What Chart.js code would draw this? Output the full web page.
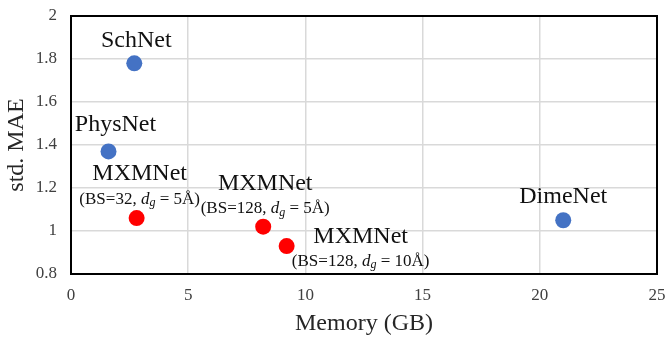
<!DOCTYPE html>
<html>
<head>
<meta charset="utf-8">
<script src="https://cdn.jsdelivr.net/npm/chart.js@4"></script>
<style>
  html, body { margin: 0; padding: 0; background: #fff; }
  #wrap { width: 665px; height: 337px; position: relative; }
</style>
</head>
<body>
<div id="wrap"><canvas id="myChart"></canvas></div>
<script>
// data
const modelNames = ['SchNet', 'PhysNet', 'MXMNet', 'MXMNet', 'MXMNet', 'DimeNet'];
const memoryGB = [2.7, 1.6, 2.8, 8.2, 9.2, 21.0];
const stdMAE = [1.78, 1.37, 1.06, 1.02, 0.93, 1.05];
const batchSizes = [null, null, 32, 128, 128, null];
const cutoffs = [null, null, 5, 5, 10, null];
const isOurs = [false, false, true, true, true, false];

// label placement relative to the point (px): name dx, dy, sub dx, dy
const labelPlace = [
    [2, -23, 0, 0],
    [7, -27, 0, 0],
    [3, -44, 3, -19],
    [2, -43, 2, -18],
    [74, -9, 74, 15],
    [0, -24, 0, 0]
];

const serif = "'Liberation Serif', 'Times New Roman', serif";

const pts = (flag) => memoryGB
    .map((x, i) => ({x: x, y: stdMAE[i], i: i}))
    .filter(p => isOurs[p.i] === flag);

const labelPlugin = {
    id: 'pointLabels',
    afterDatasetsDraw(chart) {
        const ctx = chart.ctx;
        const xs = chart.scales.x, ys = chart.scales.y;
        ctx.save();
        ctx.fillStyle = '#111';
        ctx.textBaseline = 'middle';
        modelNames.forEach((name, i) => {
            const px = xs.getPixelForValue(memoryGB[i]);
            const py = ys.getPixelForValue(stdMAE[i]);
            const pl = labelPlace[i];
            ctx.font = '24px ' + serif;
            ctx.textAlign = 'center';
            ctx.fillText(name, px + pl[0], py + pl[1]);

            if (batchSizes[i] !== null) {
                // (BS=32, d_g = 5Å)
                const parts = [
                    {t: '(BS=' + batchSizes[i] + ', ', f: '17px ' + serif, dy: 0},
                    {t: 'd', f: 'italic 17px ' + serif, dy: 0},
                    {t: 'g', f: 'italic 12px ' + serif, dy: 4},
                    {t: ' = ' + cutoffs[i] + 'Å)', f: '17px ' + serif, dy: 0}
                ];
                let total = 0;
                parts.forEach(p => { ctx.font = p.f; p.w = ctx.measureText(p.t).width; total += p.w; });
                let x = px + pl[2] - total / 2;
                const y = py + pl[3];
                ctx.textAlign = 'left';
                parts.forEach(p => {
                    ctx.font = p.f;
                    ctx.fillText(p.t, x, y + p.dy);
                    x += p.w;
                });
            }
        });
        ctx.restore();
    }
};

const boxPlugin = {
    id: 'plotBox',
    afterDraw(chart) {
        const a = chart.chartArea;
        const ctx = chart.ctx;
        ctx.save();
        ctx.strokeStyle = '#000';
        ctx.lineWidth = 2;
        ctx.strokeRect(a.left, a.top, a.right - a.left, a.bottom - a.top);
        ctx.restore();
    }
};

const noOverhang = (scale) => {
    scale.paddingLeft = 0;
    scale.paddingRight = 0;
    scale.paddingTop = 0;
    scale.paddingBottom = 0;
};

const ctx = document.getElementById('myChart').getContext('2d');
const myChart = new Chart(ctx, {
    type: 'scatter',
    data: {
        datasets: [{
            label: 'baselines',
            data: pts(false),
            backgroundColor: '#4472C4',
            borderWidth: 0,
            pointRadius: 8,
            pointHoverRadius: 8
        }, {
            label: 'MXMNet',
            data: pts(true),
            backgroundColor: '#FF0000',
            borderWidth: 0,
            pointRadius: 8,
            pointHoverRadius: 8
        }]
    },
    options: {
        responsive: true,
        maintainAspectRatio: false,
        animation: false,
        layout: {
            padding: {top: 16, right: 8, left: 0, bottom: 0}
        },
        plugins: {
            legend: {display: false},
            tooltip: {enabled: false}
        },
        scales: {
            x: {
                type: 'linear',
                min: 0,
                max: 25,
                afterFit: (scale) => { scale.height = 63; noOverhang(scale); },
                grid: {
                    color: '#d9d9d9',
                    lineWidth: 1.5,
                    drawTicks: false
                },
                border: {display: false},
                ticks: {
                    stepSize: 5,
                    padding: 11,
                    color: '#404040',
                    font: {size: 17, family: serif}
                },
                title: {
                    display: true,
                    text: 'Memory (GB)',
                    color: '#262626',
                    font: {size: 24, family: serif},
                    padding: {top: 0, bottom: -1}
                }
            },
            y: {
                min: 0.8,
                max: 2,
                afterFit: (scale) => { scale.width = 71; noOverhang(scale); },
                grid: {
                    color: '#d9d9d9',
                    lineWidth: 1.5,
                    drawTicks: false
                },
                border: {display: false},
                ticks: {
                    stepSize: 0.2,
                    padding: 14,
                    color: '#404040',
                    font: {size: 17, family: serif},
                    callback: (value) => String(+value.toFixed(1))
                },
                title: {
                    display: true,
                    text: 'std. MAE',
                    color: '#262626',
                    font: {size: 24, family: serif},
                    padding: {top: 2, bottom: 0}
                }
            }
        }
    },
    plugins: [labelPlugin, boxPlugin]
});
</script>
</body>
</html>
